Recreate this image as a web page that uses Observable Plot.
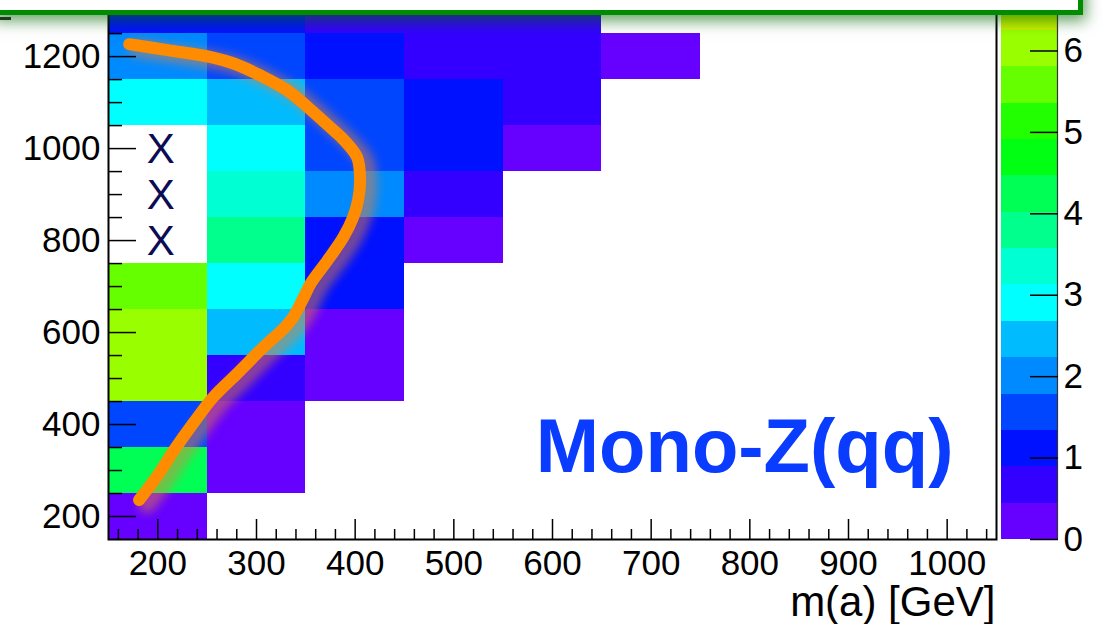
<!DOCTYPE html>
<html>
<head>
<meta charset="utf-8">
<script src="https://cdn.jsdelivr.net/npm/d3@7"></script>
<script src="https://cdn.jsdelivr.net/npm/@observablehq/plot@0.6"></script>
<style>
  html, body { margin: 0; padding: 0; background: #ffffff; }
  #stage {
    position: relative; width: 1102px; height: 624px; overflow: hidden;
    font-family: "Liberation Sans", Arial, Helvetica, sans-serif;
  }
  #stage svg { position: absolute; top: 0; overflow: visible; }
  #banner {
    position: absolute; left: -10px; top: -40px; width: 1083px; height: 44.5px;
    background: #ffffff; border: 5px solid #008c00;
    box-shadow: 3px 6px 14px rgba(0, 100, 0, 0.6); z-index: 5;
  }
  #dash { position: absolute; left: 0; top: 17px; width: 11px; height: 3px; background: #1c3a1c; z-index: 6; }
</style>
</head>
<body>
<div id="stage"><div id="banner"></div><div id="dash"></div></div>
<script>
// Bin centres of the 2D histogram (GeV), 100 GeV wide in both directions
const xCenters = [200, 300, 400, 500, 600, 700];
const yCenters = [200, 300, 400, 500, 600, 700, 800, 900, 1000, 1100, 1200, 1300];
const binHalf = 50;

// Bin contents, one row per y centre (x = 200 ... 700); null = empty bin
const zRows = [
  [0.3],                              // 200
  [4.3, 0.3],                         // 300
  [1.6, 0.2],                         // 400
  [6.0, 0.7, 0.2],                    // 500
  [6.1, 2.5, 0.3],                    // 600
  [5.6, 2.9, 1.2],                    // 700
  [null, 3.8, 1.1, 0.3],              // 800
  [null, 3.4, 2.0, 0.8],              // 900
  [null, 3.0, 1.5, 1.0, 0.2],         // 1000
  [2.9, 2.4, 1.6, 1.1, 0.6],          // 1100
  [2.0, 1.5, 1.0, 0.7, 0.6, 0.3],     // 1200
  [1.2, 1.1, 0.6, 0.7, 0.5]           // 1300
];

// Excluded points marked with an X
const excludedX = [200, 200, 200];
const excludedY = [1000, 900, 800];

// Orange boundary curve (m(a), y)
const curveX = [171, 210, 256, 277, 304, 331, 352, 378, 388, 402, 405, 403, 398, 388, 372, 355, 348, 337, 329, 307, 281, 256, 236, 218, 200, 181];
const curveY = [1227, 1214, 1198, 1185, 1159, 1127, 1090, 1040, 1020, 981, 931, 888, 851, 807, 757, 707, 677, 633, 612, 568, 512, 459, 403, 349, 290, 236];

// Colour palette: 15 contour levels between 0 and zMax
const zMax = 6.7;
const paletteColors = [
  "#6600ff", "#3300ff", "#0011ff", "#0046ff", "#008aff",
  "#00bcff", "#00ffff", "#00ffd2", "#00ff8c", "#00ff55",
  "#00ff12", "#22ff00", "#66ff00", "#99ff00", "#c8f000"
];

// Axis ticks
const xMajorTicks = [200, 300, 400, 500, 600, 700, 800, 900, 1000];
const xMinorTicks = d3.range(160, 1050, 20).filter(v => v % 100 !== 0);
const yMajorTicks = [200, 400, 600, 800, 1000, 1200];
const yMinorTicks = d3.range(200, 1322, 50).filter(v => v % 200 !== 0);
const zTicks = [0, 1, 2, 3, 4, 5, 6];

const xTitle = "m(a) [GeV]";
const panelLabel = "Mono-Z(qq)";

const levelStep = zMax / paletteColors.length;
const thresholds = d3.range(1, paletteColors.length).map(i => i * levelStep);

const cells = yCenters.flatMap((y, i) =>
  zRows[i].map((z, j) => ({x: xCenters[j], y, z})).filter(d => d.z != null));
const excluded = excludedX.map((x, i) => ({x, y: excludedY[i]}));
const curve = curveX.map((x, i) => ({x, y: curveY[i]}));

const font = "'Liberation Sans', Arial, Helvetica, sans-serif";
const plain = d => String(d);
const blank = () => "";

const main = Plot.plot({
  width: 1000, height: 624,
  marginLeft: 108, marginRight: 4, marginTop: 0, marginBottom: 85,
  x: {domain: [150, 1050], label: null},
  y: {domain: [150, 1322], label: null},
  color: {type: "threshold", domain: thresholds, range: paletteColors},
  style: {fontFamily: font, background: "transparent", overflow: "visible"},
  marks: [
    Plot.rect(cells, {
      x1: d => d.x - binHalf, x2: d => d.x + binHalf,
      y1: d => d.y - binHalf, y2: d => d.y + binHalf,
      fill: "z", clip: true, shapeRendering: "crispEdges"
    }),
    Plot.text(excluded, {x: "x", y: "y", text: () => "X", fontSize: 42, fill: "#0c0c55", dx: 3, dy: 1}),
    Plot.line(curve, {x: "x", y: "y", curve: "catmull-rom", stroke: "#e8803a", strokeOpacity: 0.5, strokeWidth: 18, dx: 8, dy: 4}),
    Plot.line(curve, {x: "x", y: "y", curve: "catmull-rom", stroke: "#ff8c00", strokeWidth: 12}),
    Plot.frame({stroke: "black", strokeWidth: 2}),
    Plot.axisX(xMinorTicks, {anchor: "bottom", tickSize: -10, tickFormat: blank, strokeWidth: 1.5, label: null}),
    Plot.axisX(xMajorTicks, {anchor: "bottom", tickSize: -20, tickPadding: 31, tickFormat: plain, fontSize: 35, strokeWidth: 1.5, fill: "black", label: null}),
    Plot.axisY(yMinorTicks, {anchor: "left", tickSize: -14, tickFormat: blank, strokeWidth: 1.5, label: null}),
    Plot.axisY(yMajorTicks, {anchor: "left", tickSize: -28, tickPadding: 36, tickFormat: plain, fontSize: 35, strokeWidth: 1.5, fill: "black", label: null}),
    Plot.text([xTitle], {frameAnchor: "bottom-right", text: d => d, dx: -1, dy: 76, textAnchor: "end", fontSize: 42, fill: "black"}),
    Plot.text([panelLabel], {frameAnchor: "bottom-right", text: d => d, dx: -43, dy: -68, textAnchor: "end", fontSize: 76, fontWeight: "bold", fill: "#0a3cff"})
  ]
});

// soft drop shadow under the boundary curve
const lineGroups = main.querySelectorAll('g[aria-label="line"]');
if (lineGroups.length) lineGroups[0].style.filter = "blur(5px)";
main.style.left = "0px";

// Colour scale bar
const bands = paletteColors.map((c, i) => ({lo: i * levelStep, hi: (i + 1) * levelStep, c}));
const bar = Plot.plot({
  width: 112, height: 624,
  marginLeft: 11, marginRight: 45, marginTop: 0, marginBottom: 85,
  x: {domain: [0, 1], axis: null},
  y: {domain: [0, 6.62], label: null},
  style: {fontFamily: font, background: "transparent", overflow: "visible"},
  marks: [
    Plot.rect(bands, {x1: 0, x2: 1, y1: "lo", y2: "hi", fill: d => d.c, clip: true, shapeRendering: "crispEdges"}),
    Plot.ruleX([1], {stroke: "#333", strokeWidth: 1.2}),
    Plot.axisY(zTicks, {anchor: "right", tickSize: -28, tickPadding: 34, tickFormat: plain, fontSize: 35, strokeWidth: 1.5, fill: "black", label: null})
  ]
});
bar.style.left = "990px";

const stage = document.getElementById("stage");
stage.insertBefore(bar, stage.firstChild);
stage.insertBefore(main, stage.firstChild);
</script>
</body>
</html>
